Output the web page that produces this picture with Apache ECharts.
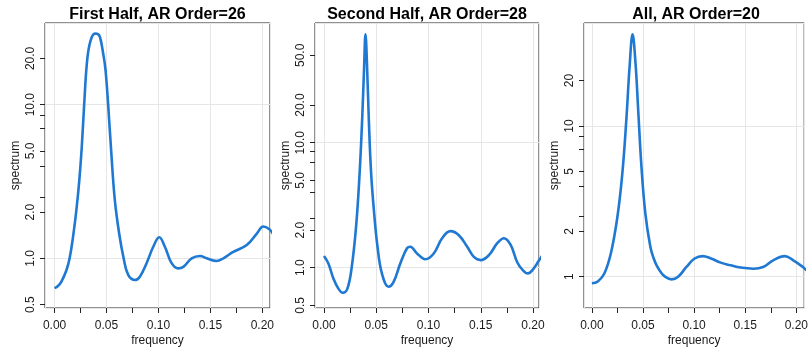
<!DOCTYPE html>
<html><head><meta charset="utf-8">
<script src="https://cdn.jsdelivr.net/npm/echarts@6/dist/echarts.min.js"></script>
<style>html,body{margin:0;padding:0;background:#fff}#c{width:811px;height:352px}</style>
</head><body><div id="c"></div>
<script>
const titles = ['First Half, AR Order=26', 'Second Half, AR Order=28', 'All, AR Order=20'];

const freq1 = [0, 0.0033, 0.0066, 0.0115, 0.0145, 0.0178, 0.021, 0.0238, 0.0262, 0.0285, 0.0314, 0.0346, 0.0388, 0.041, 0.0436, 0.0468, 0.049, 0.0516, 0.0545, 0.058, 0.0622, 0.0665, 0.0709, 0.0773, 0.0821, 0.0886, 0.095, 0.1008, 0.1062, 0.1127, 0.119, 0.124, 0.132, 0.14, 0.1464, 0.156, 0.1625, 0.172, 0.185, 0.1947, 0.201, 0.2065, 0.21];
const spec1 = [0.64, 0.66, 0.705, 0.84, 1.0, 1.38, 2.06, 3.2, 5.3, 10.0, 19.5, 26.0, 29.0, 28.9, 27.7, 21.5, 17.0, 10.0, 5.0, 2.4, 1.45, 1.0, 0.78, 0.723, 0.76, 0.93, 1.19, 1.37, 1.19, 0.93, 0.86, 0.88, 1.0, 1.035, 1.0, 0.96, 1.0, 1.10, 1.22, 1.45, 1.61, 1.55, 1.45];

const freq2 = [0, 0.0042, 0.009, 0.0138, 0.0179, 0.0224, 0.0266, 0.0307, 0.0339, 0.0365, 0.0384, 0.0397, 0.041, 0.0429, 0.0451, 0.048, 0.0512, 0.0554, 0.0618, 0.0666, 0.073, 0.0794, 0.0826, 0.089, 0.097, 0.105, 0.113, 0.121, 0.129, 0.137, 0.1434, 0.15, 0.1578, 0.1658, 0.1722, 0.1786, 0.185, 0.19, 0.195, 0.2, 0.205, 0.21];
const spec2 = [1.24, 1.08, 0.82, 0.68, 0.63, 0.68, 1.02, 2.13, 5.35, 15.2, 40.5, 73.6, 45.9, 15.2, 5.69, 2.72, 1.47, 0.90, 0.705, 0.77, 1.08, 1.43, 1.47, 1.30, 1.17, 1.30, 1.72, 1.96, 1.82, 1.47, 1.22, 1.15, 1.26, 1.57, 1.72, 1.52, 1.10, 0.96, 0.90, 0.97, 1.12, 1.3];

const freq3 = [0, 0.0058, 0.0122, 0.0186, 0.025, 0.0298, 0.0337, 0.0369, 0.0398, 0.0427, 0.0453, 0.0485, 0.0523, 0.0572, 0.0605, 0.0636, 0.0675, 0.0716, 0.078, 0.0844, 0.0925, 0.1005, 0.1085, 0.1165, 0.126, 0.1358, 0.1454, 0.158, 0.1675, 0.177, 0.1887, 0.1967, 0.2064, 0.21];
const spec3 = [0.904, 0.93, 1.05, 1.43, 2.50, 4.85, 10.96, 24.7, 40.5, 26.0, 12.8, 5.37, 2.63, 1.58, 1.32, 1.18, 1.07, 1.0, 0.96, 1.0, 1.16, 1.32, 1.37, 1.32, 1.24, 1.19, 1.15, 1.13, 1.16, 1.28, 1.37, 1.29, 1.16, 1.1];

const xTicks = [0, 0.025, 0.05, 0.075, 0.1, 0.125, 0.15, 0.175, 0.2];
const xLabels = [0, 0.05, 0.1, 0.15, 0.2];
const yTicks = [0.5, 1, 2, 2.5, 4, 5, 7, 8.5, 10, 20, 50];
const yLabels = [0.5, 1, 2, 5, 10, 20, 50];

const freqs = [freq1, freq2, freq3];
const specs = [spec1, spec2, spec3];
const xRanges = [[-0.0092, 0.2074], [-0.0086, 0.2057], [-0.0077, 0.2077]];
const yRanges = [[0.475, 34.0], [0.476, 90.7], [0.62, 48.2]];
const yDecimals = [1, 1, 0];

const panels = [{left: 45, width: 225}, {left: 315, width: 224}, {left: 584, width: 224}];
const FONT = '"Liberation Sans", Arial, sans-serif';
const TXT = '#1a1a1a';

const option = {animation: false, title: [], grid: [], xAxis: [], yAxis: [], series: []};
panels.forEach((p, i) => {
  option.title.push({text: titles[i], left: p.left + p.width / 2 - 5, top: 2, textAlign: 'center',
    textStyle: {fontFamily: FONT, fontWeight: 'bold', fontSize: 16, color: '#000'}});
  option.grid.push({left: p.left, width: p.width, top: 23, height: 285, show: true,
    borderColor: '#222', borderWidth: 1, backgroundColor: 'transparent'});
  option.xAxis.push({type: 'value', gridIndex: i, min: xRanges[i][0], max: xRanges[i][1], position: 'bottom',
    name: 'frequency', nameLocation: 'middle', nameGap: 27, nameMoveOverlap: false,
    nameTextStyle: {fontFamily: FONT, fontSize: 12, color: TXT},
    axisLine: {show: false, onZero: false},
    axisTick: {show: true, customValues: xTicks, length: 5, inside: false, lineStyle: {color: '#222', width: 1}},
    axisLabel: {customValues: xLabels, margin: 12, fontFamily: FONT, fontSize: 12, color: TXT,
      formatter: v => Number(v).toFixed(2)},
    splitLine: {show: false}});
  option.xAxis.push({type: 'value', gridIndex: i, min: xRanges[i][0], max: xRanges[i][1], position: 'top',
    axisLine: {show: false, onZero: false}, axisTick: {show: false}, axisLabel: {show: false},
    splitLine: {show: true, lineStyle: {color: '#e6e6e6', width: 1}}});
  const dec = yDecimals[i];
  option.yAxis.push({type: 'log', logBase: 10, gridIndex: i, min: yRanges[i][0], max: yRanges[i][1], position: 'left',
    name: 'spectrum', nameLocation: 'middle', nameGap: 23, nameRotate: 90, nameMoveOverlap: false,
    nameTextStyle: {fontFamily: FONT, fontSize: 12, color: TXT},
    axisLine: {show: false, onZero: false},
    axisTick: {show: true, customValues: yTicks, length: 5, inside: false, lineStyle: {color: '#222', width: 1}},
    axisLabel: {customValues: yLabels, rotate: 90, margin: 8, fontFamily: FONT, fontSize: 12, color: TXT,
      formatter: v => Number(v).toFixed(dec)},
    splitLine: {show: false}});
  option.yAxis.push({type: 'log', logBase: 10, gridIndex: i, min: yRanges[i][0], max: yRanges[i][1], position: 'right',
    axisLine: {show: false, onZero: false}, axisTick: {show: false}, axisLabel: {show: false},
    splitLine: {show: true, lineStyle: {color: '#e6e6e6', width: 1}}});
  option.series.push({type: 'line', xAxisIndex: 2 * i, yAxisIndex: 2 * i, showSymbol: false, symbol: 'none',
    smooth: 0.4, clip: true, z: 5,
    lineStyle: {color: '#1f78d1', width: 2.6},
    data: freqs[i].map((f, k) => [f, specs[i][k]])});
});

const chart = echarts.init(document.getElementById('c'), null, {renderer: 'canvas'});
chart.setOption(option);
</script>
</body></html>
